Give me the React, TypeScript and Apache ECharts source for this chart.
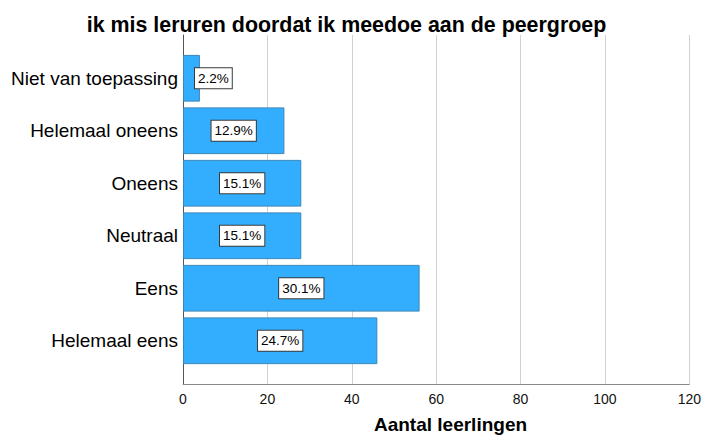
import React, { useEffect, useRef } from "react";
import * as echarts from "echarts";

const categories = [
  "Niet van toepassing",
  "Helemaal oneens",
  "Oneens",
  "Neutraal",
  "Eens",
  "Helemaal eens",
];
const counts = [4, 24, 28, 28, 56, 46];
const percentLabels = ["2.2%", "12.9%", "15.1%", "15.1%", "30.1%", "24.7%"];
const xTicks = [0, 20, 40, 60, 80, 100, 120];
const titleText = "ik mis leruren doordat ik meedoe aan de peergroep";
const xAxisTitle = "Aantal leerlingen";

const FONT = "'Liberation Sans', Arial, Helvetica, sans-serif";

export default function App() {
  const ref = useRef<HTMLDivElement>(null);
  useEffect(() => {
    if (!ref.current) return;
    const chart = echarts.init(ref.current, null, { renderer: "svg" });
    const labelStyle = {
      show: true,
      position: "inside",
      formatter: (p: any) => percentLabels[p.dataIndex],
      color: "#000",
      fontFamily: FONT,
      fontSize: 13.5,
      backgroundColor: "#fff",
      borderColor: "#3a3a3a",
      borderWidth: 1,
      padding: [3, 3, 3, 3],
    };
    chart.setOption({
      animation: false,
      textStyle: { fontFamily: FONT },
      graphic: [
        {
          type: "text",
          x: 346.5,
          y: 25,
          style: {
            text: titleText,
            font: "bold 21.4px " + FONT,
            fill: "#000",
            align: "center",
            verticalAlign: "middle",
          },
        },
        {
          type: "text",
          x: 450.5,
          y: 424,
          style: {
            text: xAxisTitle,
            font: "bold 19px " + FONT,
            fill: "#000",
            align: "center",
            verticalAlign: "middle",
          },
        },
      ],
      grid: [
        { left: 183, right: 14, top: 52, bottom: 68 },
        { left: 183, right: 14, top: 35, bottom: 51 },
      ],
      xAxis: [
        {
          gridIndex: 0,
          type: "value",
          min: 0,
          max: 120,
          interval: 20,
          show: false,
        },
        {
          gridIndex: 1,
          type: "value",
          min: xTicks[0],
          max: xTicks[xTicks.length - 1],
          interval: 20,
          axisLine: { show: true, lineStyle: { color: "#8a8a8a", width: 1 } },
          axisTick: { show: false },
          axisLabel: { color: "#111", fontSize: 14, margin: 8, fontFamily: FONT },
          splitLine: { show: true, lineStyle: { color: "#d2d2d2", width: 1 } },
        },
      ],
      yAxis: [
        {
          gridIndex: 0,
          type: "category",
          data: categories,
          inverse: true,
          axisLine: { show: false },
          axisTick: { show: false },
          axisLabel: { color: "#000", fontSize: 19, margin: 5, fontFamily: FONT },
        },
        {
          gridIndex: 1,
          type: "value",
          min: 0,
          max: 1,
          axisLine: { show: true, lineStyle: { color: "#555", width: 1 } },
          axisTick: { show: false },
          axisLabel: { show: false },
          splitLine: { show: false },
        },
      ],
      series: [
        {
          type: "bar",
          xAxisIndex: 0,
          yAxisIndex: 0,
          barCategoryGap: "11%",
          itemStyle: { color: "#33aeff", borderColor: "#3b86b8", borderWidth: 1 },
          label: labelStyle,
          data: counts.map((v, i) =>
            i === 0
              ? {
                  value: v,
                  label: { position: "insideLeft", distance: 12 },
                }
              : v
          ),
        },
      ],
    });
    return () => chart.dispose();
  }, []);
  return (
    <div
      ref={ref}
      style={{ width: 704, height: 435, position: "absolute", left: 0, top: 0 }}
    />
  );
}
